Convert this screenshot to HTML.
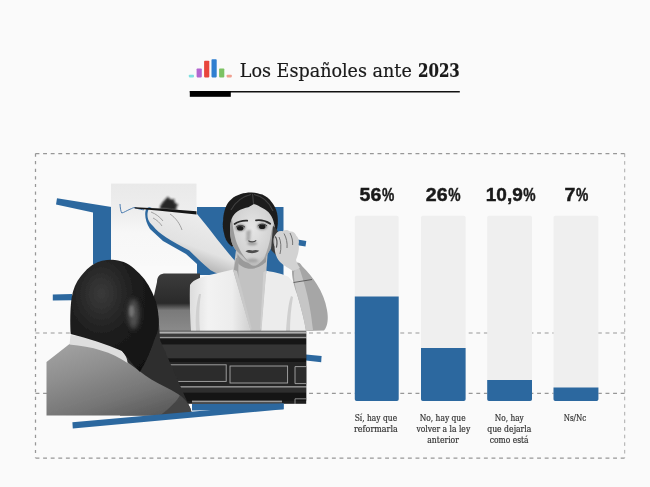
<!DOCTYPE html>
<html lang="es">
<head>
<meta charset="utf-8">
<title>Los Españoles ante 2023</title>
<style>
html,body{margin:0;padding:0;background:#fafafa;}
body{width:650px;height:487px;overflow:hidden;position:relative;font-family:"Liberation Serif",serif;}
svg{position:absolute;left:0;top:0;display:block;}
.pct{font-family:"Liberation Sans",sans-serif;font-weight:700;font-size:18.9px;fill:#1a1a1a;stroke:#1a1a1a;stroke-width:0.45px;}
.lbl{font-family:"DejaVu Serif","Liberation Serif",serif;font-size:8.4px;fill:#333;stroke:#333;stroke-width:0.2px;}
.ttl{font-family:"DejaVu Serif","Liberation Serif",serif;font-size:18px;fill:#1a1a1a;stroke:#1a1a1a;stroke-width:0.2px;}
</style>
</head>
<body>
<svg width="650" height="487" viewBox="0 0 650 487">
<defs>
<filter id="b1" x="-10%" y="-10%" width="120%" height="120%"><feGaussianBlur stdDeviation="0.55"/></filter>
<filter id="b3" x="-60%" y="-30%" width="220%" height="160%"><feGaussianBlur stdDeviation="2.6"/></filter>
<filter id="b2" x="-30%" y="-30%" width="160%" height="160%"><feGaussianBlur stdDeviation="1.3"/></filter>
</defs>
<rect width="650" height="487" fill="#fafafa"/>

<!-- header -->
<g id="logo">
<rect x="188.8" y="74.8" width="5.2" height="2.6" rx="0.8" fill="#7fe0e0"/>
<rect x="196.6" y="68.5" width="5.2" height="8.9" rx="0.8" fill="#b266d0"/>
<rect x="204.1" y="60.8" width="5.2" height="16.6" rx="0.8" fill="#e8453c"/>
<rect x="211.5" y="59.2" width="5.2" height="18.2" rx="0.8" fill="#2f7fd0"/>
<rect x="219.1" y="68.5" width="5.2" height="8.9" rx="0.8" fill="#7cc263"/>
<rect x="226.6" y="74.8" width="5.2" height="2.6" rx="0.8" fill="#f0a090"/>
</g>
<text class="ttl" x="239.8" y="77.3" textLength="172" lengthAdjust="spacingAndGlyphs">Los Españoles ante</text><text class="ttl" font-weight="700" x="418" y="77.3" textLength="41.8" lengthAdjust="spacingAndGlyphs">2023</text>
<rect x="189.8" y="91" width="270" height="1.5" fill="#111"/>
<rect x="189.8" y="91" width="41" height="5.8" fill="#000"/>

<!-- dashed frame -->
<g fill="none" stroke="#979797" stroke-width="1.25" stroke-dasharray="3.9 3.7">
<path d="M35.5 153.5H624.7"/>
<path d="M35.5 458H624.7"/>
<path d="M35.5 153.5V458" stroke-dasharray="3.2 4.4"/>
<path d="M624.7 153.5V458" stroke-width="0.8" stroke-dasharray="3.6 4"/>
<path d="M35.5 333H624.7" stroke-width="1.1"/>
<path d="M35.5 393.4H624.7" stroke-width="1.1"/>
</g>

<!-- chart -->
<g id="chart">
<g fill="#efefef">
<rect x="354.8" y="215.8" width="43.9" height="185.3" rx="1.8"/>
<rect x="421" y="215.8" width="44.6" height="185.3" rx="1.8"/>
<rect x="487.2" y="215.8" width="44.8" height="185.3" rx="1.8"/>
<rect x="553.5" y="215.8" width="44.9" height="185.3" rx="1.8"/>
</g>
<g fill="#2c689f">
<path d="M354.8 296.4h43.9v102.9a1.8 1.8 0 0 1-1.8 1.8h-40.3a1.8 1.8 0 0 1-1.8-1.8z"/>
<path d="M421 348h44.6v51.3a1.8 1.8 0 0 1-1.8 1.8h-41a1.8 1.8 0 0 1-1.8-1.8z"/>
<path d="M487.2 380h44.8v19.3a1.8 1.8 0 0 1-1.8 1.8h-41.2a1.8 1.8 0 0 1-1.8-1.8z"/>
<path d="M553.5 387.4h44.9v11.9a1.8 1.8 0 0 1-1.8 1.8h-41.3a1.8 1.8 0 0 1-1.8-1.8z"/>
</g>
<g class="pct">
<text x="359.6" y="201.1" textLength="21.8" lengthAdjust="spacingAndGlyphs">56</text><text x="381.9" y="201.1" textLength="12.3" lengthAdjust="spacingAndGlyphs">%</text>
<text x="425.8" y="201.1" textLength="21.8" lengthAdjust="spacingAndGlyphs">26</text><text x="448.3" y="201.1" textLength="12.3" lengthAdjust="spacingAndGlyphs">%</text>
<text x="485.8" y="201.1" textLength="37" lengthAdjust="spacingAndGlyphs">10,9</text><text x="523.3" y="201.1" textLength="12.3" lengthAdjust="spacingAndGlyphs">%</text>
<text x="564.4" y="201.1" textLength="10.9" lengthAdjust="spacingAndGlyphs">7</text><text x="575.9" y="201.1" textLength="12.3" lengthAdjust="spacingAndGlyphs">%</text>
</g>
<g class="lbl" text-anchor="middle" lengthAdjust="spacingAndGlyphs">
<text x="375.9" y="420.9" textLength="42.5" lengthAdjust="spacingAndGlyphs">Sí, hay que</text>
<text x="375.9" y="431.8" textLength="43.7" lengthAdjust="spacingAndGlyphs">reformarla</text>
<text x="442.7" y="420.9" textLength="45.9" lengthAdjust="spacingAndGlyphs">No, hay que</text>
<text x="443.3" y="431.8" textLength="53.8" lengthAdjust="spacingAndGlyphs">volver a la ley</text>
<text x="443.1" y="442.7" textLength="31.7" lengthAdjust="spacingAndGlyphs">anterior</text>
<text x="509.3" y="420.9" textLength="29" lengthAdjust="spacingAndGlyphs">No, hay</text>
<text x="509.3" y="431.8" textLength="44.2" lengthAdjust="spacingAndGlyphs">que dejarla</text>
<text x="509.2" y="442.7" textLength="38.8" lengthAdjust="spacingAndGlyphs">como está</text>
<text x="575" y="420.9" textLength="22.6" lengthAdjust="spacingAndGlyphs">Ns/Nc</text>
</g>
</g>

<!-- collage -->
<g id="collage">
<defs>
<linearGradient id="paperG" x1="0" y1="0" x2="0" y2="1"><stop offset="0" stop-color="#e9e9e9"/><stop offset="0.35" stop-color="#eeeeee"/><stop offset="0.6" stop-color="#f7f7f7"/><stop offset="1" stop-color="#f9f9f9"/></linearGradient>
<linearGradient id="suitG" x1="0.1" y1="0" x2="0.75" y2="1"><stop offset="0" stop-color="#a2a2a2"/><stop offset="0.35" stop-color="#8e8e8e"/><stop offset="0.7" stop-color="#767676"/><stop offset="1" stop-color="#5a5a5a"/></linearGradient>
<radialGradient id="headG" cx="0.35" cy="0.3" r="0.8"><stop offset="0" stop-color="#3a3a3a"/><stop offset="0.5" stop-color="#1c1c1c"/><stop offset="1" stop-color="#111"/></radialGradient>
<radialGradient id="faceG" cx="0.5" cy="0.4" r="0.7"><stop offset="0" stop-color="#e6e6e6"/><stop offset="0.7" stop-color="#cfcfcf"/><stop offset="1" stop-color="#a8a8a8"/></radialGradient>
<linearGradient id="jackG" x1="0" y1="0" x2="1" y2="0"><stop offset="0" stop-color="#dcdcdc"/><stop offset="0.3" stop-color="#f2f2f2"/><stop offset="0.7" stop-color="#ededed"/><stop offset="1" stop-color="#d0d0d0"/></linearGradient>
<linearGradient id="deskG" x1="0" y1="0" x2="0" y2="1"><stop offset="0" stop-color="#3a3a3a"/><stop offset="0.3" stop-color="#2a2a2a"/><stop offset="1" stop-color="#1a1a1a"/></linearGradient>
<linearGradient id="chairG" x1="0" y1="0" x2="0" y2="1"><stop offset="0" stop-color="#3c3c3c"/><stop offset="0.5" stop-color="#2a2a2a"/><stop offset="0.62" stop-color="#7a7a7a"/><stop offset="1" stop-color="#8c8c8c"/></linearGradient>
</defs>
<!-- blue shapes back -->
<g fill="#2c689f">
<polygon points="57,198.3 111.5,207 111.5,264 93,264 93,212.6 56,204.6"/>
<rect x="197" y="207" width="86.5" height="68"/>
<polygon points="283,237 306.3,241 305.5,246.5 283,243"/>
<polygon points="52.8,294.4 72,294 72,300.2 52.8,300.6"/>
<polygon points="306,354.6 321.6,356 321.2,362.2 306,360.4"/>
</g>
<!-- paper -->
<rect x="111" y="183.6" width="85.5" height="82" fill="url(#paperG)"/>
<!-- scribble -->
<path d="M120 204 C120.3 208 120.6 211 121.8 213 C124 212.5 127 210.5 130 209.2 C132 208.6 133 207.4 135 207.6 C137 208 139 209.5 144 209.8" fill="none" stroke="#3a6fa8" stroke-width="0.9"/>
<!-- hand shadow (blue) -->
<path d="M145.5 211 C146 207.5 149 206.5 152 207.5 L160 212 L176 236 L196 252 L214 268 L232 275 L228 279 L208 274 L186 254 L163 241 L150 229 C146 223 144.5 216 145.5 211Z" fill="#2c689f"/>
<!-- arm + hand -->
<g filter="url(#b1)">
<defs><linearGradient id="armG" x1="0.75" y1="0.1" x2="0.35" y2="0.9"><stop offset="0" stop-color="#efefef"/><stop offset="0.6" stop-color="#e2e2e2"/><stop offset="0.88" stop-color="#b4b4b4"/><stop offset="1" stop-color="#989898"/></linearGradient></defs>
<path d="M148.5 209.5 C150 206.5 154 206 158 207.5 L170 209.5 L196 212.8 C201 219 206 225 210 230 C215 236.5 220 243 225 249 C229 254 233 258.5 236 262 L243 270 L230 277 C223 275.5 216 273.5 210.6 270.3 C203 264 196 257 189.3 250.6 C181 246 173 242 166.3 237.5 C161 234 156 230 153 226 C150.5 223.5 149 221.5 148.2 219.4 C147 216 147.4 212 148.5 209.5Z" fill="url(#armG)"/>
<path d="M151 212 C156 214 160 217 163 221 M153 218 C157 220 160 223 162 226 M170 214 C176 218 180 224 182 230" stroke="#9a9a9a" stroke-width="0.9" fill="none"/>
</g>
<path d="M160 206.5 C162 202 166 199 168 196.5 C169 199 171.5 200 174.5 199 C173.5 202 175.5 204 178.5 204.5 C176 206.5 175.5 208.5 177 210.5 L160 209Z" fill="#1a1a1a" filter="url(#b2)" opacity="0.95"/>
<path d="M134.7 207.2 L160 208.4 L196.5 211.2 L196.5 214.4 L160 210.8 L134.7 208.4Z" fill="#151515"/>
<!-- chair -->
<path d="M157 282 C157 276 160 273.5 166 273.5 L200 273.5 L200 333 L153 333 L153 300Z" fill="url(#chairG)"/>
<!-- woman -->
<g filter="url(#b1)">
<!-- neck + V -->
<path d="M236 250 L233 272 L250.3 331 L261.4 331 L266.3 272 L268 248Z" fill="#c2c2c2"/>
<path d="M237.5 254 C244 265 256 267 266.5 254 L266 262 C256 271 244 271 237 262Z" fill="#9a9a9a"/><path d="M236 258 L233.4 272 L240 290 C238 278 238 266 239 258Z" fill="#a0a0a0"/>
<!-- jacket -->
<path d="M191 331 C190 314 189.5 296 190 285 C193 279 204 276 216 273.5 L233 269.6 L250.3 331Z" fill="url(#jackG)"/>
<path d="M261.4 331 L266.3 270.8 C276 272.5 284 274.5 288.5 277 C293 281 296 286 298.3 291 C301 303 304 318 306 331Z" fill="#ececec"/>
<path d="M233 269.6 L237 271 L251.6 328 L250.3 331Z" fill="#c9c9c9"/>
<path d="M266.3 270.8 L263.4 272 L260.2 328 L261.4 331Z" fill="#cfcfcf"/>
<path d="M196 331 C195 318 196 304 199 294 L201 294 C199 306 199 320 200 331Z" fill="#d0d0d0"/>
<path d="M286 331 C287 318 288 304 291 296 L293 297 C291 308 290 320 290 331Z" fill="#cfcfcf"/>
<!-- right forearm -->
<path d="M292 269 C293 262 299 260 302 266 C308 272 313 278 316.7 284 C322 292 325.5 301 327 310 C328.5 318 328 326 324 330.6 L306 331 C304 318 300 304 297 294 C294 286 291.5 276 292 269Z" fill="#a6a6a6"/>
<path d="M294 272 C295 268 298 266 300 270 C304 282 310 300 313 330 L306 331 C304 318 300 304 297 294 C295 286 293.5 278 294 272Z" fill="#c6c6c6"/>
<path d="M293.5 282.5 L312 279.5" stroke="#4a4a4a" stroke-width="0.8" fill="none"/>
<!-- hair -->
<path d="M231.6 246.6 C227 243 224.5 238 223.9 232.8 C222.6 228 222.6 224 223.1 220.4 C223.2 216 224 212 225.4 208.1 C226.8 204 229 201 231.6 198.9 C234 196.5 237.5 195 240.8 193.9 C244 192.8 248 192.3 251.6 192.4 C255.5 192.6 259 193.4 262.4 194.6 C266 196.2 269.2 198.8 271.6 202 C274.2 205 276 208.8 277 212.7 C277.8 216 278 219.6 277.8 223.5 C277.6 227 277 230 276 233 L272 240 L270 216 L254 205 L238 212 L232 226 L234 246Z" fill="#1d1d1d"/>
<path d="M251 194.5 C244 196 236 201 231 210 M254 194.5 C262 196 269 202 273 211 M252.5 194 L253.6 204" stroke="#4a4a4a" stroke-width="1.2" fill="none" opacity="0.8"/>
<!-- face -->
<path d="M230 229.7 C230 225 230.6 222 231.6 218.9 C233 215.6 235 213 237.7 211.2 C241 209 245 208 248.5 207.3 L253.9 204 C257 205 260 206.4 262.4 208.1 C265.6 209.6 268.3 211.6 270.1 214.3 C272 217 273.4 220 274 223.5 C274.6 226 274.8 228 274.7 231.2 C275 237 273.6 242 271.6 246.6 C269 253 263 262 256 265.6 C252 267 247 262 243.9 257.4 C241 254.6 238.6 253 237 251.3 C234 248 232.4 245 231.6 242 C230.6 238 230 234 230 229.7Z" fill="url(#faceG)"/>
<!-- face shading -->
<path d="M230 229.7 C230 225 230.6 222 232 219 C233 228 234.4 238 238 246 C240.6 252 244 257 248 261 C246 260 245 259 243.9 257.4 C241 254.6 238.6 253 237 251.3 C234 248 232.4 245 231.6 242 C230.6 238 230 234 230 229.7Z" fill="#8c8c8c" opacity="0.8"/>
<path d="M274 223.5 C274.6 226 274.8 228 274.7 231.2 C275 237 273.6 242 271.6 246.6 C270 250.6 267 255.6 263.6 259.6 C267 252 270 242 271 234 C271.6 230 272.6 226 274 223.5Z" fill="#9a9a9a" opacity="0.8"/>
<!-- ear + ear hand -->
<path d="M273 226 C277 228 280 234 280.5 241 C281 247 279 252 276 255 L271 250Z" fill="#3a3a3a"/>
<ellipse cx="276.2" cy="241" rx="2.8" ry="6.5" fill="#b8b8b8"/>
<path d="M274.8 236 C276 232.5 279 230.4 282.4 231.2 C285 229.4 288 229.4 290 231.5 C293 231 295.6 233 296.3 235.8 C298.6 238 299.5 241 298.6 244 C299.6 249 298 255 296 260 C297 263 298.5 266 300 268 L293 271 C289 268 284 266 280 262 C277 259 275 254 274.6 248Z" fill="#d2d2d2"/>
<path d="M279 237 C281 241 281.5 248 280 254 M284 233.5 C286.5 238 287.5 243 287 248 M290 233 C292 237 293 241 292.6 245" stroke="#6a6a6a" stroke-width="0.9" fill="none"/>
<path d="M275 236.5 C277 238 277.6 243 276.4 247.6" stroke="#555" stroke-width="1.2" fill="none"/>
<!-- features -->
<g filter="url(#b2)" opacity="0.75">
<ellipse cx="240.4" cy="227.6" rx="5" ry="3.4" fill="#6a6a6a"/>
<ellipse cx="262.2" cy="226.4" rx="5" ry="3.4" fill="#6a6a6a"/>
<path d="M246 231 C246.5 235 246.5 238 246 241 L250 241 L251 230Z" fill="#9a9a9a"/>
<ellipse cx="252.4" cy="260.6" rx="6" ry="2" fill="#9a9a9a"/>
<ellipse cx="252.2" cy="243.6" rx="5" ry="1.8" fill="#8a8a8a"/>
</g>
<ellipse cx="240.2" cy="228.2" rx="3.2" ry="2.3" fill="#1c1c1c"/>
<ellipse cx="262.2" cy="226.8" rx="3.2" ry="2.3" fill="#1c1c1c"/>
<path d="M236 227.2 C238.5 224.8 242.5 224.8 245 227.2" stroke="#2e2e2e" stroke-width="0.9" fill="none"/>
<path d="M257.8 225.8 C260.5 223.6 264.5 223.6 267 226" stroke="#2e2e2e" stroke-width="0.9" fill="none"/>
<path d="M234.6 224 C238 221.6 243 220.4 247.2 220.6" stroke="#2a2a2a" stroke-width="1.8" fill="none" stroke-linecap="round"/>
<path d="M256 220.4 C260.5 219.8 266 221 270.2 223.8" stroke="#2a2a2a" stroke-width="1.8" fill="none" stroke-linecap="round"/>
<path d="M248.4 240.6 C250 242.4 254.4 242.4 256.2 240.4" stroke="#4a4a4a" stroke-width="1.2" fill="none"/>
<path d="M245.4 251.2 C248 249.4 250.6 249.8 252.4 250.4 C254.4 249.8 257 249.6 259.3 250.8 C256 253.8 249 254 245.4 251.2Z" fill="#4e4e4e"/>
</g>
<!-- desk -->
<g>
<rect x="150" y="330.8" width="156.2" height="73" fill="#1e1e1e"/>
<rect x="150" y="331.4" width="156.2" height="2.4" fill="#b0b0b0"/>
<rect x="150" y="333.8" width="156.2" height="3" fill="#3a3a3a"/>
<rect x="150" y="336.8" width="156.2" height="1.7" fill="#9a9a9a"/>
<rect x="150" y="338.5" width="156.2" height="6" fill="#161616"/>
<rect x="150" y="344.5" width="156.2" height="14" fill="#353535"/>
<rect x="150" y="358.5" width="156.2" height="3.5" fill="#141414"/>
<rect x="150" y="362" width="156.2" height="24" fill="#242424"/>
<g fill="#2c2c2c" stroke="#a8a8a8" stroke-width="0.9">
<rect x="148" y="364.3" width="16.6" height="16"/>
<rect x="169.4" y="364.8" width="56.8" height="16.6"/>
<rect x="230" y="366" width="57.6" height="17"/>
<path d="M306.2 366.6H295V383.6H306.2"/>
</g>
<rect x="150" y="386" width="156.2" height="1.8" fill="#8a8a8a"/>
<rect x="150" y="387.8" width="156.2" height="5" fill="#2e2e2e"/>
<rect x="150" y="392.8" width="156.2" height="8" fill="#151515"/>
<rect x="192" y="400.6" width="90" height="1.8" fill="#9a9a9a"/>
<path d="M306.2 398.8H295V404" fill="none" stroke="#999" stroke-width="0.9"/>
</g>
<!-- man -->
<g filter="url(#b1)">
<path d="M144 330 C150 330 158 326 158.5 316 L160 340 L190 408 L192 415.6 L120 415.6 L118 350Z" fill="#2e2e2e"/>
<path d="M46.5 415.6 L46.5 362 L58 353 L69.5 344 L100 346 L124.7 360 C134 367 143 374 151.4 379.6 C160 385 170 389 178 394 C184 398 188 403 190.4 408.3 L192.5 415.6Z" fill="url(#suitG)"/><path d="M160 415.6 C170 408 178 400 180 395 C185 399 189 404 190.4 408.3 L192.5 415.6Z" fill="#3a3a3a" opacity="0.7"/>
<path d="M70.5 335 L90 338 L121 350 C126 355 127.5 359 127.5 363 C112 352 92 346.5 69.5 344.5Z" fill="#dedede"/>
<path d="M70.7 334 C70 322 70.2 308 71.6 298 C73 289.5 76 282 81 276 C85 271 89 267 93 264.5 C99 261 105 259.8 112 259.8 C120 260 128 263 134 268.5 C142 275 148 283 152 292 C156 300 158 308 158.5 316 C159 326 158 332 155 338 C151 350 146 362 140 372 C134 366 128 358 122 351 C106 344 88 338.5 70.7 334Z" fill="url(#headG)"/>

<ellipse cx="133.5" cy="314" rx="5.5" ry="15" fill="#5c5c5c" filter="url(#b3)" opacity="0.85"/><ellipse cx="131.5" cy="311" rx="2.6" ry="6" fill="#7a7a7a" filter="url(#b2)" opacity="0.8"/>
</g>
<!-- bottom blue strokes -->
<g fill="#2c689f">
<polygon points="72.4,422.2 283.6,403.6 283.6,409.2 72.8,428.6"/>
<polygon points="192,404 283.6,403.6 283.6,409.2 192,410.5"/>
</g>
</g>
</svg>
</body>
</html>
